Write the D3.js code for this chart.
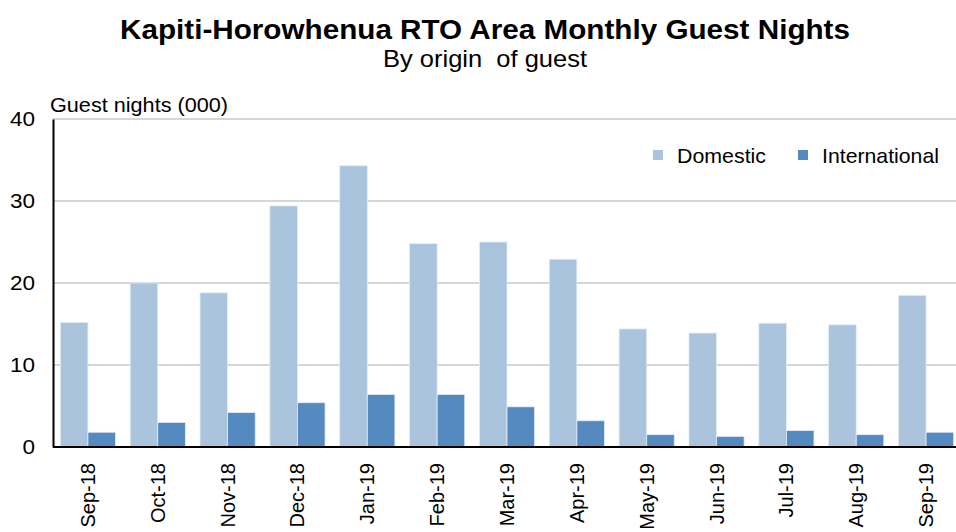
<!DOCTYPE html>
<html>
<head>
<meta charset="utf-8">
<script src="https://cdnjs.cloudflare.com/ajax/libs/d3/7.8.5/d3.min.js"></script>
<style>
  body { margin: 0; background: #fff; }
  svg { font-family: "Liberation Sans", Arial, sans-serif; display: block; }
</style>
</head>
<body>
<svg id="chart" width="956" height="532"></svg>
<script>
var width = 956,
    height = 532;

// data
var months = ["Sep-18", "Oct-18", "Nov-18", "Dec-18", "Jan-19", "Feb-19", "Mar-19",
              "Apr-19", "May-19", "Jun-19", "Jul-19", "Aug-19", "Sep-19"];
var domestic = [15.2, 20.0, 18.8, 29.4, 34.3, 24.8, 25.0, 22.9, 14.4, 13.9, 15.1, 14.9, 18.5];
var international = [1.8, 3.0, 4.2, 5.4, 6.4, 6.4, 4.9, 3.2, 1.5, 1.3, 2.0, 1.5, 1.8];
var seriesNames = ["Domestic", "International"];
var yTicks = [0, 10, 20, 30, 40];

var colors = ["#abc4de", "#558ac0"];

var margin = {top: 119, right: -5, bottom: 85, left: 53};

var svg = d3.select("#chart");

var x = d3.scaleBand()
    .domain(months)
    .range([margin.left, width - margin.right])
    .paddingInner(0.21)
    .paddingOuter(0.105);

var x1 = d3.scaleBand()
    .domain(seriesNames)
    .range([0, x.bandwidth()]);

var y = d3.scaleLinear()
    .domain([0, 40])
    .range([height - margin.bottom, margin.top]);

// stretch a text element horizontally to match the reference width
function stretch(sel, factor) {
  sel.each(function() {
    var w = this.getComputedTextLength();
    d3.select(this)
      .attr("textLength", w * factor)
      .attr("lengthAdjust", "spacingAndGlyphs");
  });
}

// gridlines
svg.append("g")
    .selectAll("line")
    .data(yTicks.filter(function(d) { return d > 0; }))
    .enter().append("line")
    .attr("x1", margin.left)
    .attr("x2", width)
    .attr("y1", function(d) { return y(d); })
    .attr("y2", function(d) { return y(d); })
    .attr("stroke", "#c8c8c8")
    .attr("stroke-width", 1.5);

// bars
var rows = months.map(function(m, i) {
  return {month: m, values: [domestic[i], international[i]]};
});

svg.append("g")
  .selectAll("g")
  .data(rows)
  .enter().append("g")
    .attr("transform", function(d) { return "translate(" + x(d.month) + ",0)"; })
  .selectAll("rect")
  .data(function(d) { return d.values.map(function(v, j) { return {key: seriesNames[j], value: v, idx: j}; }); })
  .enter().append("rect")
    .attr("x", function(d) { return x1(d.key); })
    .attr("y", function(d) { return y(d.value); })
    .attr("width", x1.bandwidth())
    .attr("height", function(d) { return y(0) - y(d.value); })
    .attr("fill", function(d) { return colors[d.idx]; })
    .attr("stroke", "#e4ecf5")
    .attr("stroke-width", 0.8);

// y axis
var yAxis = svg.append("g")
    .attr("transform", "translate(" + margin.left + ",0)")
    .call(d3.axisLeft(y).tickValues(yTicks).tickSize(0).tickPadding(18));
yAxis.select(".domain").attr("stroke", "#000").attr("stroke-width", 2);
yAxis.selectAll("text").attr("font-size", 20.5).attr("fill", "#000")
    .attr("font-family", "Liberation Sans, Arial, sans-serif")
    .call(stretch, 1.1);

// x axis
var xAxis = svg.append("g")
    .attr("transform", "translate(0," + y(0) + ")")
    .call(d3.axisBottom(x).tickSize(0).tickPadding(0));
xAxis.select(".domain").attr("d", "M" + margin.left + ",0H" + width)
    .attr("stroke", "#000").attr("stroke-width", 2);
xAxis.selectAll("text")
    .attr("font-size", 20)
    .attr("fill", "#000")
    .attr("font-family", "Liberation Sans, Arial, sans-serif")
    .attr("text-anchor", "end")
    .attr("x", -16)
    .attr("y", 0)
    .attr("dy", "0.35em")
    .attr("transform", "rotate(-90)");

// titles
svg.append("text")
    .attr("x", 485).attr("y", 39)
    .attr("text-anchor", "middle")
    .attr("font-size", 27.5).attr("font-weight", "bold")
    .attr("textLength", 730).attr("lengthAdjust", "spacingAndGlyphs")
    .text("Kapiti-Horowhenua RTO Area Monthly Guest Nights");

svg.append("text")
    .attr("x", 485).attr("y", 67)
    .attr("text-anchor", "middle")
    .attr("font-size", 24)
    .attr("textLength", 204).attr("lengthAdjust", "spacingAndGlyphs")
    .style("white-space", "pre")
    .text("By origin  of guest");

svg.append("text")
    .attr("x", 50).attr("y", 112)
    .attr("font-size", 21)
    .attr("textLength", 178).attr("lengthAdjust", "spacingAndGlyphs")
    .text("Guest nights (000)");

// legend
var legendX = [653, 798],
    legendW = [89, 117];

var legend = svg.append("g")
  .selectAll("g")
  .data(seriesNames)
  .enter().append("g")
    .attr("transform", function(d, i) { return "translate(" + legendX[i] + ",150)"; });

legend.append("rect")
    .attr("width", 10).attr("height", 10)
    .attr("fill", function(d, i) { return colors[i]; });

legend.append("text")
    .attr("x", 24).attr("y", 13)
    .attr("font-size", 21)
    .attr("textLength", function(d, i) { return legendW[i]; })
    .attr("lengthAdjust", "spacingAndGlyphs")
    .text(function(d) { return d; });
</script>
</body>
</html>
